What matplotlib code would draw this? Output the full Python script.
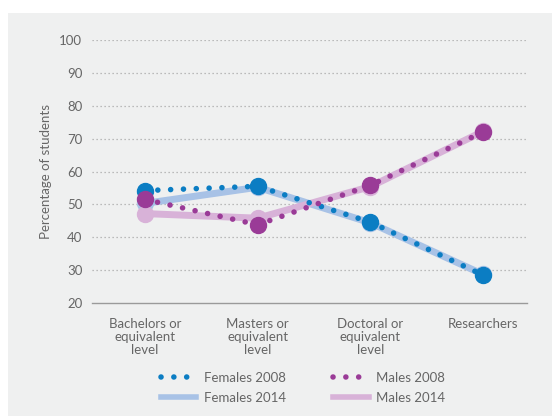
import matplotlib
matplotlib.use("Agg")
import matplotlib.pyplot as plt
from matplotlib.patches import Rectangle
from matplotlib.lines import Line2D

plt.rcParams['font.family'] = ['Lato', 'DejaVu Sans']

categories = ["Bachelors or\nequivalent\nlevel", "Masters or\nequivalent\nlevel",
              "Doctoral or\nequivalent\nlevel", "Researchers"]
females_2008 = [54.2, 55.5, 44.6, 28.5]
females_2014 = [50.3, 55.2, 44.4, 28.7]
males_2008 = [51.5, 43.8, 55.8, 72.0]
males_2014 = [47.2, 45.8, 55.4, 72.2]
y_ticks = [20, 30, 40, 50, 60, 70, 80, 90, 100]

BLUE = "#0b7dc3"
LIGHT_BLUE = "#a8c2e6"
PURPLE = "#9a3b97"
PINK = "#d8b2d8"
TEXT = "#666666"
BG = "#eff0f0"

fig = plt.figure(figsize=(5.57, 4.16), dpi=100)
fig.patches.append(Rectangle((8 / 557, 0), (552 - 8) / 557, (416 - 13) / 416,
                             transform=fig.transFigure, facecolor=BG,
                             edgecolor="none", zorder=-10))

ax = fig.add_axes([92 / 557, (416 - 303) / 416, (527 - 92) / 557, (303 - 40) / 416])
ax.set_facecolor("none")

x = list(range(len(categories)))

# 2014 series: thick pale solid lines
ax.plot(x, females_2014, color=LIGHT_BLUE, lw=5, marker="o", ms=11.5,
        solid_capstyle="round", clip_on=False, zorder=3)
ax.plot(x, males_2014, color=PINK, lw=5, marker="o", ms=11.5,
        solid_capstyle="round", clip_on=False, zorder=3)

# 2008 series: dotted lines with round dots
dots = (0, (0.01, 2.3))
ax.plot(x, females_2008, color=BLUE, lw=4, ls=dots, dash_capstyle="round",
        marker="o", ms=11.5, clip_on=False, zorder=4)
ax.plot(x, males_2008, color=PURPLE, lw=4, ls=dots, dash_capstyle="round",
        marker="o", ms=11.5, clip_on=False, zorder=5)

ax.set_xlim(-0.47, 3.39)
ax.set_ylim(20, 100)
ax.set_yticks(y_ticks)
ax.set_xticks(x)
ax.set_xticklabels(categories, fontsize=9.5, color=TEXT, linespacing=1.1)
ax.tick_params(axis="both", length=0, colors=TEXT, labelsize=9.5)
ax.tick_params(axis="y", pad=7)
ax.tick_params(axis="x", pad=11)

for t in y_ticks[1:]:
    ax.axhline(t, color="#a9a9a9", lw=0.9, ls=(0, (1, 2.2)), zorder=1)

for s in ["top", "right", "left"]:
    ax.spines[s].set_visible(False)
ax.spines["bottom"].set_color("#9a9a9a")
ax.spines["bottom"].set_linewidth(1.0)

ax.set_ylabel("Percentage of students", fontsize=9.5, color=TEXT, labelpad=5)

handles = [
    Line2D([], [], color=BLUE, lw=4, ls=dots, dash_capstyle="round"),
    Line2D([], [], color=LIGHT_BLUE, lw=4),
    Line2D([], [], color=PURPLE, lw=4, ls=dots, dash_capstyle="round"),
    Line2D([], [], color=PINK, lw=4),
]
labels = ["Females 2008", "Females 2014", "Males 2008", "Males 2014"]
leg = fig.legend(handles, labels, ncol=2, loc="center",
                 bbox_to_anchor=(303 / 557, (416 - 388) / 416),
                 frameon=False, fontsize=9.5, handlelength=2.7,
                 handletextpad=0.55, columnspacing=3.6, labelspacing=0.6,
                 labelcolor=TEXT)

fig.savefig("out.png", dpi=100)
